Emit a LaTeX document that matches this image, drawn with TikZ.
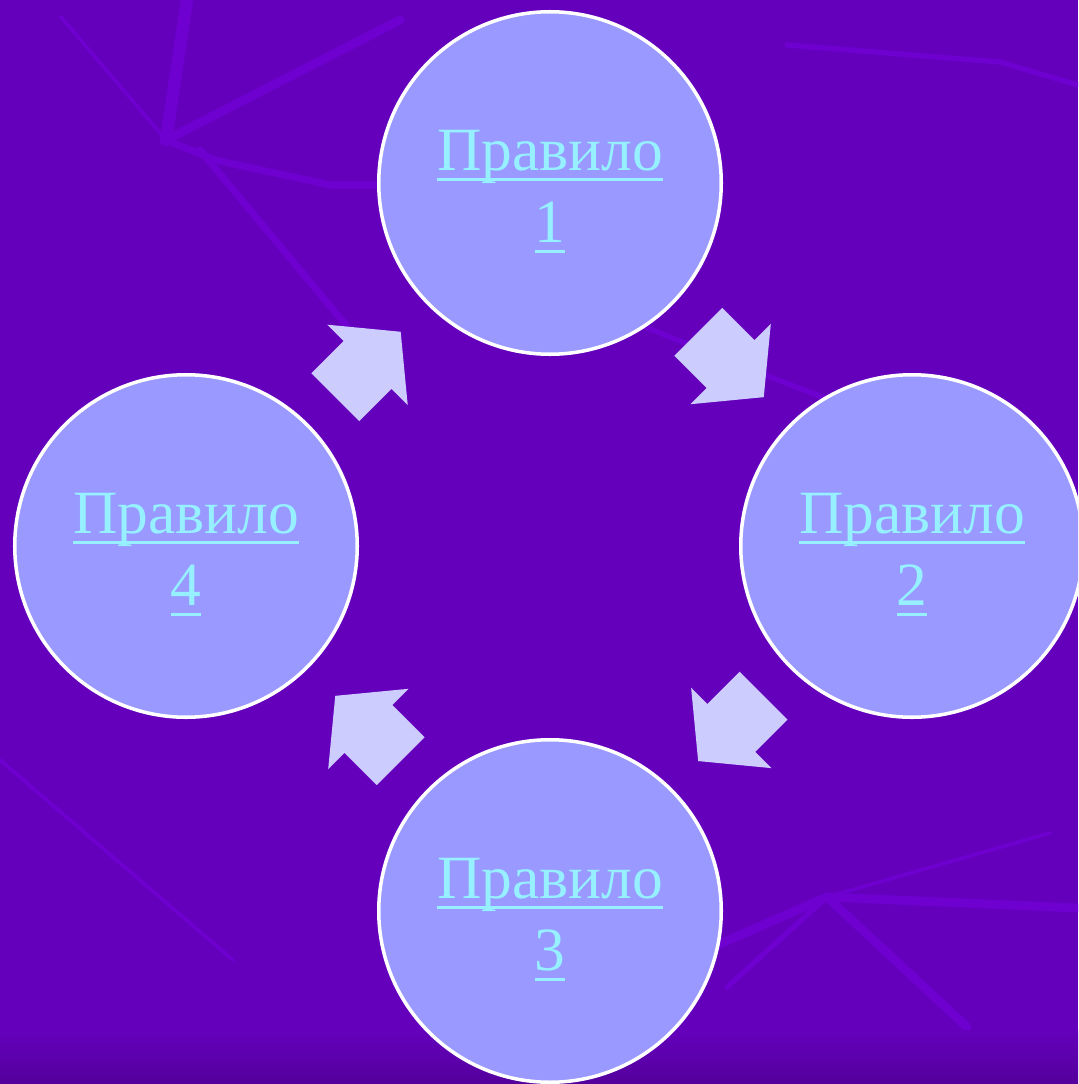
\documentclass[tikz,border=0pt]{standalone}
\usepackage{fontspec}
\setmainfont{Liberation Serif}
\usepackage{tikz}
\usetikzlibrary{positioning,calc,shapes.arrows}
\usepackage{xcolor}
\definecolor{slidepurple}{RGB}{100,0,188}
\definecolor{slidedark}{RGB}{84,0,156}
\definecolor{streakpurple}{RGB}{110,0,208}
\definecolor{rulefill}{RGB}{153,153,255}
\definecolor{arrowfill}{RGB}{204,204,255}
\definecolor{linkcyan}{RGB}{150,240,255}
\newcommand{\ulink}[1]{\setbox0=\hbox{#1}\rlap{\rule[-0.175em]{\wd0}{0.05em}}\box0}

\begin{document}
\begin{tikzpicture}[
  rulenode/.style={circle,draw=white,line width=2pt,fill=rulefill,minimum size=6.85cm,inner sep=0pt,align=center,text=linkcyan,text height=74pt,font=\fontsize{35}{41}\selectfont},
  blockar/.style={single arrow,fill=arrowfill,draw=none,inner xsep=0pt,inner ysep=0.67cm,outer sep=0pt,minimum height=1.85cm,minimum width=2.26cm,single arrow head extend=0.46cm,single arrow tip angle=101,anchor=tail},
  streak/.style={draw=streakpurple,line cap=round,line join=round}
]
\useasboundingbox (0,0) rectangle (21.56,-21.68);
\clip (0,0) rectangle (21.56,-21.68);

% BACKGROUND: slide colour, faint streaks, darker foot
\fill[slidepurple] (0,0) rectangle (21.56,-21.68);
\draw[streak,line width=7pt] (3.74,0) -- (3.32,-2.8);
\draw[streak,line width=2pt] (1.22,-0.34) -- (3.32,-2.8);
\draw[streak,line width=5pt] (3.32,-2.8) -- (8.0,-0.4);
\draw[streak,line width=4pt] (3.32,-2.8) -- (4.3,-3.2) -- (6.6,-3.7) -- (7.56,-3.7);
\draw[streak,line width=4pt] (4.0,-3.0) -- (7.0,-6.6);
\draw[streak,line width=3pt] (15.74,-0.9) -- (20.0,-1.24) -- (21.56,-1.7);
\draw[streak,line width=3pt] (12.8,-6.5) -- (15.2,-7.46) -- (16.7,-8.04);
\draw[streak,line width=2pt] (0,-15.2) -- (4.66,-19.2);
\draw[streak,line width=5pt] (16.54,-17.94) -- (14.26,-18.94);
\draw[streak,line width=5pt] (16.54,-17.94) -- (21.56,-18.16);
\draw[streak,line width=2pt] (16.54,-17.94) -- (21.0,-16.66);
\draw[streak,line width=5pt] (16.54,-17.94) -- (19.34,-20.54);
\draw[streak,line width=3pt] (16.54,-17.94) -- (14.54,-19.74);
\shade[top color=slidepurple,bottom color=slidedark] (0,-20.6) rectangle (21.56,-21.68);

% FOUR RULES round the centre
\node[rulenode] (r1) at (11.0,-3.66)  {\ulink{Правило}\\\ulink{1}};
\node[rulenode] (r2) at (18.24,-10.92) {\ulink{Правило}\\\ulink{2}};
\node[rulenode] (r3) at (11.0,-18.22) {\ulink{Правило}\\\ulink{3}};
\node[rulenode] (r4) at (3.72,-10.92)  {\ulink{Правило}\\\ulink{4}};

% BLOCK ARROWS: clockwise, tail set back half a length from the midpoint
\node[blockar,rotate=-45]  (a12) at ($(r1)!0.5!(r2)!0.925cm!(r1)$) {};
\node[blockar,rotate=-135] (a23) at ($(r2)!0.5!(r3)!0.925cm!(r2)$) {};
\node[blockar,rotate=135]  (a34) at ($(r3)!0.5!(r4)!0.925cm!(r3)$) {};
\node[blockar,rotate=45]   (a41) at ($(r4)!0.5!(r1)!0.925cm!(r4)$) {};

\end{tikzpicture}
\end{document}
